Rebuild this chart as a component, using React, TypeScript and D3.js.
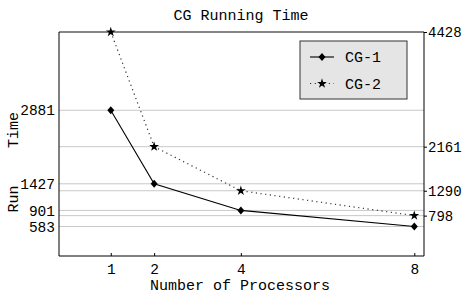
import React, { useRef, useEffect } from "react";
import * as d3 from "d3";

const processors = [1, 2, 4, 8];
const cg1 = [2881, 1427, 901, 583];
const cg2 = [4428, 2161, 1290, 798];
const leftTicks = [583, 901, 1427, 2881];
const rightTicks = [798, 1290, 2161, 4428];
const seriesNames = ["CG-1", "CG-2"];

const FONT = "'Liberation Mono', 'DejaVu Sans Mono', monospace";

const App = () => {
  const svgRef = useRef<SVGSVGElement>(null);

  useEffect(() => {
    const width = 463;
    const height = 297;
    const m = { top: 32, right: 39, bottom: 41, left: 59 };

    const svg = d3.select(svgRef.current);
    svg.selectAll("*").remove();

    const x = d3.scaleLinear().domain([-0.194, 8.224]).range([m.left, width - m.right]);
    const y = d3.scaleLinear().domain([0, 4428]).range([height - m.bottom, m.top]);

    // grid lines
    svg
      .append("g")
      .selectAll("line")
      .data([...leftTicks, ...rightTicks])
      .enter()
      .append("line")
      .attr("x1", m.left)
      .attr("x2", width - m.right)
      .attr("y1", (d) => y(d))
      .attr("y2", (d) => y(d))
      .attr("stroke", "#c8c8c8")
      .attr("stroke-width", 1);

    // frame
    const x0 = m.left, x1 = width - m.right, y0 = m.top, y1 = height - m.bottom;
    svg.append("line").attr("x1", x0).attr("x2", x1).attr("y1", y0).attr("y2", y0)
      .attr("stroke", "#666").attr("stroke-width", 1.5);
    svg.append("path")
      .attr("d", `M${x0},${y0}V${y1}H${x1}V${y0}`)
      .attr("fill", "none").attr("stroke", "#000").attr("stroke-width", 1);

    // left axis
    const left = svg.append("g").attr("transform", `translate(${x0},0)`)
      .call(d3.axisLeft(y).tickValues(leftTicks).tickSize(0).tickPadding(4).tickFormat(d3.format("d")));
    left.select(".domain").remove();
    left.selectAll("text").attr("font-family", FONT).attr("font-size", 14.5).attr("fill", "#000");

    // right axis
    const right = svg.append("g").attr("transform", `translate(${x1},0)`)
      .call(d3.axisRight(y).tickValues(rightTicks).tickSize(3).tickPadding(1).tickFormat(d3.format("d")));
    right.select(".domain").remove();
    right.selectAll("line").attr("stroke", "#000");
    right.selectAll("text").attr("font-family", FONT).attr("font-size", 14).attr("fill", "#000");

    // bottom axis
    const bottom = svg.append("g").attr("transform", `translate(0,${y1})`)
      .call(d3.axisBottom(x).tickValues(processors).tickSize(-3).tickPadding(8).tickFormat(d3.format("d")));
    bottom.select(".domain").remove();
    bottom.selectAll("line").attr("stroke", "#000");
    bottom.selectAll("text").attr("font-family", FONT).attr("font-size", 14.5).attr("fill", "#000");

    // titles
    svg.append("text").attr("x", 241).attr("y", 20).attr("text-anchor", "middle")
      .attr("font-family", FONT).attr("font-size", 15).text("CG Running Time");
    svg.append("text").attr("x", 240).attr("y", 290).attr("text-anchor", "middle")
      .attr("font-family", FONT).attr("font-size", 15).text("Number of Processors");
    svg.append("text").attr("transform", "translate(18,130) rotate(-90)").attr("text-anchor", "middle")
      .attr("font-family", FONT).attr("font-size", 15).text("Time");
    svg.append("text").attr("transform", "translate(18,199) rotate(-90)").attr("text-anchor", "middle")
      .attr("font-family", FONT).attr("font-size", 15).text("Run");

    const line = d3.line<number>().x((d, i) => x(processors[i])).y((d) => y(d));

    svg.append("path").datum(cg2).attr("d", line).attr("fill", "none")
      .attr("stroke", "#333").attr("stroke-width", 1.2).attr("stroke-dasharray", "1.2,3.5");
    svg.append("path").datum(cg1).attr("d", line).attr("fill", "none")
      .attr("stroke", "#000").attr("stroke-width", 1.1);

    const diamond = "M0,-4L3.5,0L0,4L-3.5,0Z";
    const star = d3.symbol().type(d3.symbolStar).size(30)();

    svg.append("g").selectAll("path").data(cg1).enter().append("path")
      .attr("transform", (d, i) => `translate(${x(processors[i])},${y(d)})`)
      .attr("d", diamond).attr("fill", "#000");
    svg.append("g").selectAll("path").data(cg2).enter().append("path")
      .attr("transform", (d, i) => `translate(${x(processors[i])},${y(d)})`)
      .attr("d", star).attr("fill", "#000");

    // legend
    const lg = svg.append("g").attr("transform", "translate(300,41)");
    lg.append("rect").attr("width", 107).attr("height", 58).attr("fill", "#e5e5e5")
      .attr("stroke", "#333").attr("stroke-width", 1);
    seriesNames.forEach((name, i) => {
      const yy = 16 + i * 26.5;
      lg.append("line").attr("x1", 10).attr("x2", 34).attr("y1", yy).attr("y2", yy)
        .attr("stroke", i === 0 ? "#000" : "#333")
        .attr("stroke-width", i === 0 ? 1.1 : 1.2)
        .attr("stroke-dasharray", i === 0 ? null : "1.2,3.5");
      lg.append("path").attr("transform", `translate(22,${yy})`)
        .attr("d", i === 0 ? diamond : star).attr("fill", "#000");
      lg.append("text").attr("x", 45).attr("y", yy + 5).attr("font-family", FONT)
        .attr("font-size", 15).text(name);
    });
  }, []);

  return (
    <div style={{ position: "absolute", left: 0, top: 0 }}>
      <svg ref={svgRef} width={463} height={297} style={{ display: "block", background: "#fff" }}></svg>
    </div>
  );
};

export default App;
